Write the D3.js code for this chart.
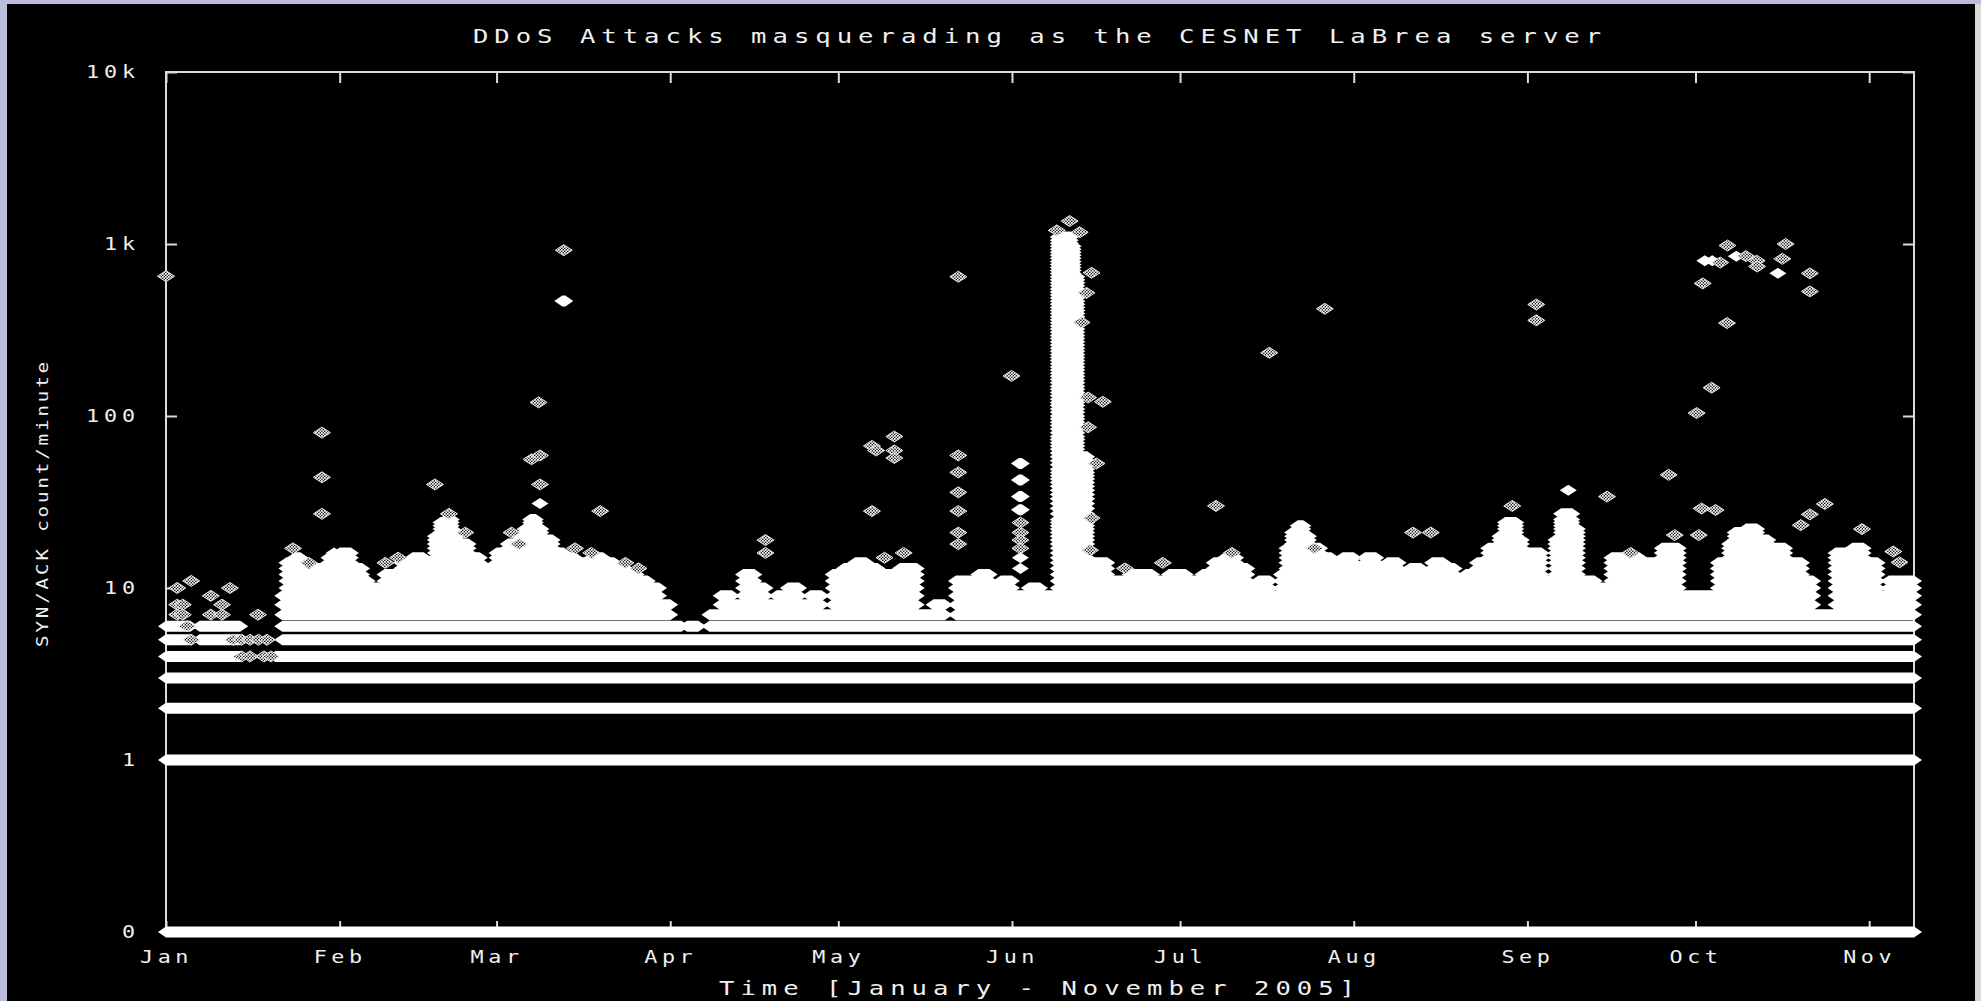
<!DOCTYPE html>
<html>
<head>
<meta charset="utf-8">
<script src="https://cdn.jsdelivr.net/npm/d3@7"></script>
<style>
  html, body { margin: 0; padding: 0; background: #b9bcdb; overflow: hidden; }
  text { font-family: "DejaVu Sans Mono", "Liberation Mono", monospace; fill: #f0f0f0; }
</style>
</head>
<body>
<div id="my_dataviz"></div>
<script>
// plot box inside the 1981x1001 window
var margin = {top: 72, right: 67, bottom: 69, left: 166},
    W = 1981, H = 1001,
    width = W - margin.left - margin.right,
    height = H - margin.top - margin.bottom;

// ---- data ----
var span = ["2005-01-01", "2005-11-09"];
var monthTicks = ["2005-01-01", "2005-02-01", "2005-03-01", "2005-04-01", "2005-05-01", "2005-06-01",
                  "2005-07-01", "2005-08-01", "2005-09-01", "2005-10-01", "2005-11-01"];
var monthLabels = ["Jan", "Feb", "Mar", "Apr", "May", "Jun", "Jul", "Aug", "Sep", "Oct", "Nov"];
var yTicks = [0.1, 1, 10, 100, 1000, 10000];
var yTickLabels = ["0", "1", "10", "100", "1k", "10k"];

// every count from 1 up to this value shows up (solid) from this date until the next one
var dense = [
  ["2005-01-01", 6], ["2005-01-05 08:00", 4], ["2005-01-07", 6], ["2005-01-14 06:00", 3],
  ["2005-01-20 12:00", 4], ["2005-01-21 18:00", 9], ["2005-01-22 12:00", 14], ["2005-01-24", 15],
  ["2005-01-25", 10], ["2005-01-26", 12], ["2005-01-28", 13], ["2005-01-30", 15], ["2005-02-01", 16],
  ["2005-02-03", 13], ["2005-02-05", 11], ["2005-02-06", 10], ["2005-02-08", 9], ["2005-02-09", 12],
  ["2005-02-11", 9], ["2005-02-12", 14], ["2005-02-14", 15], ["2005-02-16", 14], ["2005-02-18", 20],
  ["2005-02-19", 24], ["2005-02-20", 25], ["2005-02-21", 21], ["2005-02-22", 18], ["2005-02-24", 15],
  ["2005-02-26", 12], ["2005-02-27", 13], ["2005-03-01", 16], ["2005-03-03", 18], ["2005-03-05", 20],
  ["2005-03-06", 22], ["2005-03-07", 25], ["2005-03-08", 22], ["2005-03-09", 19], ["2005-03-11", 16],
  ["2005-03-13", 15], ["2005-03-15", 14], ["2005-03-18", 15], ["2005-03-20", 14], ["2005-03-22", 13],
  ["2005-03-24", 12], ["2005-03-26", 11], ["2005-03-28", 10], ["2005-03-30", 8], ["2005-04-01", 6],
  ["2005-04-03", 5], ["2005-04-04", 6], ["2005-04-06", 5], ["2005-04-08", 7], ["2005-04-10", 9],
  ["2005-04-12", 8], ["2005-04-14", 12], ["2005-04-16", 10], ["2005-04-18", 8], ["2005-04-20", 9],
  ["2005-04-22", 10], ["2005-04-24", 8], ["2005-04-26", 9], ["2005-04-28", 7], ["2005-04-30", 12],
  ["2005-05-02", 13], ["2005-05-04", 14], ["2005-05-06", 13], ["2005-05-08", 12], ["2005-05-12", 13],
  ["2005-05-15", 7], ["2005-05-18", 8], ["2005-05-20", 6], ["2005-05-22", 11], ["2005-05-26", 12],
  ["2005-05-28", 10], ["2005-05-30", 11], ["2005-06-01", 9], ["2005-06-04", 10], ["2005-06-06", 9],
  ["2005-06-09 04:00", 1100], ["2005-06-11 12:00", 1000], ["2005-06-12 00:00", 650],
  ["2005-06-12 16:00", 60], ["2005-06-14 10:00", 14],
  ["2005-06-18", 11], ["2005-06-22", 12], ["2005-06-26", 11], ["2005-06-29", 12], ["2005-07-02", 11],
  ["2005-07-05", 12], ["2005-07-07", 14], ["2005-07-09", 15], ["2005-07-11", 13], ["2005-07-13", 10],
  ["2005-07-15", 11], ["2005-07-17", 9], ["2005-07-19", 12], ["2005-07-20", 17], ["2005-07-21", 21],
  ["2005-07-22", 23], ["2005-07-23", 20], ["2005-07-24", 17], ["2005-07-26", 15], ["2005-07-28", 14],
  ["2005-07-30", 15], ["2005-08-01", 13], ["2005-08-03", 15], ["2005-08-05", 13], ["2005-08-07", 14],
  ["2005-08-09", 12], ["2005-08-11", 13], ["2005-08-13", 12], ["2005-08-15", 14], ["2005-08-17", 13],
  ["2005-08-19", 11], ["2005-08-21", 12], ["2005-08-23", 14], ["2005-08-25", 17], ["2005-08-27", 20],
  ["2005-08-28", 24], ["2005-08-30", 19], ["2005-08-31", 16], ["2005-09-03 12:00", 11], ["2005-09-06", 19],
  ["2005-09-07", 27], ["2005-09-09", 22], ["2005-09-10", 11], ["2005-09-13", 10], ["2005-09-16", 15],
  ["2005-09-21", 14], ["2005-09-25", 17], ["2005-09-28", 9], ["2005-10-05", 14], ["2005-10-07", 18],
  ["2005-10-08", 21], ["2005-10-10", 22], ["2005-10-12", 19], ["2005-10-14", 17], ["2005-10-17", 14],
  ["2005-10-20", 11], ["2005-10-22", 7], ["2005-10-26", 16], ["2005-10-29", 17], ["2005-10-31", 14],
  ["2005-11-02 12:00", 9], ["2005-11-04 12:00", 11]
];

// isolated minutes: [date, count, how many minutes share the spot]
var stray = [
  ["2005-01-01", 650, 1], ["2005-01-03", 10, 1], ["2005-01-05 12:00", 11, 1], ["2005-01-03", 8, 1],
  ["2005-01-04", 8, 1], ["2005-01-03", 7, 1], ["2005-01-04", 7, 1], ["2005-01-09", 9, 1], ["2005-01-09", 7, 1],
  ["2005-01-11", 7, 1], ["2005-01-11", 8, 1], ["2005-01-12 10:00", 10, 1], ["2005-01-17 10:00", 7, 1],
  ["2005-01-04 18:00", 6, 1], ["2005-01-05 12:00", 5, 1], ["2005-01-13", 5, 1], ["2005-01-14 12:00", 5, 1],
  ["2005-01-16", 5, 1], ["2005-01-17 12:00", 5, 1], ["2005-01-19", 5, 1], ["2005-01-14 12:00", 4, 1],
  ["2005-01-16", 4, 1], ["2005-01-18 12:00", 4, 1], ["2005-01-19 18:00", 4, 1],
  ["2005-01-23 16:00", 17, 1], ["2005-01-26 12:00", 14, 1],
  ["2005-01-28 20:00", 80, 1], ["2005-01-28 20:00", 44, 1], ["2005-01-28 20:00", 27, 1], ["2005-01-31", 16, 2],
  ["2005-02-09 04:00", 14, 1], ["2005-02-11 10:00", 15, 1], ["2005-02-18", 40, 1],
  ["2005-02-20 12:00", 27, 1], ["2005-02-23 10:00", 21, 1], ["2005-03-03 16:00", 21, 1], ["2005-03-05", 18, 1],
  ["2005-03-13", 920, 1], ["2005-03-13", 467, 5], ["2005-03-08 12:00", 120, 1], ["2005-03-07 06:00", 56, 1],
  ["2005-03-08 18:00", 59, 1], ["2005-03-08 18:00", 40, 1], ["2005-03-08 18:00", 31, 3], ["2005-03-19 12:00", 28, 1],
  ["2005-03-15", 17, 1], ["2005-03-17 22:00", 16, 1], ["2005-03-24", 14, 1], ["2005-03-26 08:00", 13, 1],
  ["2005-04-18", 19, 1], ["2005-04-18", 16, 1],
  ["2005-05-07", 67, 1], ["2005-05-07 18:00", 63, 1], ["2005-05-11", 76, 1], ["2005-05-11", 63, 1],
  ["2005-05-11", 57, 1], ["2005-05-07", 28, 1], ["2005-05-09 06:00", 15, 1], ["2005-05-12 16:00", 16, 1],
  ["2005-05-22 10:00", 645, 1], ["2005-05-22 10:00", 59, 1],
  ["2005-05-22 10:00", 47, 1], ["2005-05-22 10:00", 36, 1], ["2005-05-22 10:00", 28, 1], ["2005-05-22 10:00", 21, 1],
  ["2005-05-22 10:00", 18, 1], ["2005-05-31 22:00", 171, 1],
  ["2005-06-02 12:00", 53, 4], ["2005-06-02 12:00", 42.5, 4], ["2005-06-02 12:00", 34, 4], ["2005-06-02 12:00", 28.5, 4],
  ["2005-06-02 12:00", 24, 1], ["2005-06-02 12:00", 21, 1], ["2005-06-02 12:00", 19, 1], ["2005-06-02 12:00", 17, 1],
  ["2005-06-02 12:00", 15, 2], ["2005-06-02 12:00", 13, 2],
  ["2005-06-11 07:00", 1360, 1], ["2005-06-09", 1200, 1], ["2005-06-13 02:00", 1170, 1], ["2005-06-15 05:00", 680, 1],
  ["2005-06-14 07:00", 520, 1], ["2005-06-13 10:00", 350, 1], ["2005-06-17 05:00", 121, 1], ["2005-06-14 14:00", 128, 1],
  ["2005-06-14 14:00", 86, 1], ["2005-06-16 02:00", 53, 1], ["2005-06-15 05:00", 25.5, 1], ["2005-06-14 22:00", 16.6, 1],
  ["2005-06-21 04:00", 13, 1], ["2005-06-27 22:00", 14, 1],
  ["2005-07-07 10:00", 30, 1], ["2005-07-10 06:00", 16, 1], ["2005-07-16 22:00", 233, 1], ["2005-07-25", 17, 1],
  ["2005-07-26 20:00", 420, 1], ["2005-08-11 14:00", 21, 1], ["2005-08-14 18:00", 21, 1],
  ["2005-08-29 07:00", 30, 1], ["2005-09-02 14:00", 445, 1], ["2005-09-02 14:00", 360, 1], ["2005-09-08 07:00", 37, 3],
  ["2005-09-15 05:00", 34, 1], ["2005-09-19 10:00", 16, 1], ["2005-09-26 05:00", 45.5, 1], ["2005-09-27 07:00", 20.3, 1],
  ["2005-10-01 05:00", 104, 1], ["2005-10-02 07:00", 590, 1], ["2005-10-03 21:00", 146, 1], ["2005-10-06 17:00", 980, 1],
  ["2005-10-06 15:00", 347, 1], ["2005-10-02 16:00", 800, 3], ["2005-10-04 00:00", 800, 3], ["2005-10-05 10:00", 780, 1],
  ["2005-10-08 07:00", 850, 2], ["2005-10-10", 850, 1], ["2005-10-11 22:00", 800, 1], ["2005-10-12", 740, 1],
  ["2005-10-17 02:00", 1000, 1], ["2005-10-16 12:00", 820, 1], ["2005-10-15 17:00", 675, 3], ["2005-10-21 10:00", 675, 1],
  ["2005-10-21 10:00", 530, 1], ["2005-10-02 02:00", 29, 1], ["2005-10-04 14:00", 28.4, 1], ["2005-10-01 14:00", 20.3, 1],
  ["2005-10-24 02:00", 30.8, 1], ["2005-10-21 10:00", 26.8, 1], ["2005-10-19 19:00", 23.2, 1], ["2005-10-30 17:00", 22, 1],
  ["2005-11-05 07:00", 16.3, 1], ["2005-11-06 10:00", 14.1, 1]
];

// ---- helpers ----
var parseDay = d3.timeParse("%Y-%m-%d"),
    parseHour = d3.timeParse("%Y-%m-%d %H:%M");
function parse(s) { return s.length > 10 ? parseHour(s) : parseDay(s); }

// wide bitmap-looking text: stretch glyphs to a fixed character pitch
function pixelText(sel, size, pitch) {
  sel.style("font-size", size + "px")
     .style("letter-spacing", (pitch / 1.28 - 0.602 * size).toFixed(2) + "px")
     .attr("lengthAdjust", "spacingAndGlyphs")
     .attr("textLength", function() { return this.textContent.length * pitch; });
}

var svg = d3.select("#my_dataviz")
  .append("svg")
  .attr("width", W)
  .attr("height", H);

// window frame
svg.append("rect").attr("width", W).attr("height", H).attr("fill", "#b9bcdb");
svg.append("rect").attr("x", 7).attr("y", 4).attr("width", W - 7).attr("height", H - 4).attr("fill", "#000");
svg.append("rect").attr("x", 1975).attr("y", 4).attr("width", 6).attr("height", H - 4).attr("fill", "#d9d9d9");

var x = d3.scaleTime()
  .domain(span.map(parse))
  .range([margin.left, margin.left + width]);

var y = d3.scaleLog()
  .domain([yTicks[0], yTicks[yTicks.length - 1]])
  .range([margin.top + height, margin.top]);

// hatch used by the single points
var pat = svg.append("defs").append("pattern")
  .attr("id", "hatch")
  .attr("patternUnits", "userSpaceOnUse")
  .attr("width", 3).attr("height", 3);
pat.append("rect").attr("width", 3).attr("height", 3).attr("fill", "#222");
pat.append("rect").attr("width", 1.7).attr("height", 1.7).attr("fill", "#fff");
pat.append("rect").attr("x", 1.5).attr("y", 1.5).attr("width", 1.7).attr("height", 1.7).attr("fill", "#fff");

// axes (inward ticks, gnuplot style)
var tickLen = 11;
svg.append("g")
  .attr("class", "yaxis")
  .attr("transform", "translate(" + margin.left + ",0)")
  .call(d3.axisLeft(y).tickValues(yTicks).tickFormat(function(d, i) { return yTickLabels[i]; })
    .tickSize(-tickLen).tickPadding(26))
  .call(function(g) { g.select(".domain").remove(); });
svg.append("g")
  .attr("transform", "translate(" + (margin.left + width) + ",0)")
  .call(d3.axisRight(y).tickValues(yTicks).tickFormat("").tickSize(-tickLen))
  .call(function(g) { g.select(".domain").remove(); });
svg.append("g")
  .attr("class", "xaxis")
  .attr("transform", "translate(0," + (margin.top + height) + ")")
  .call(d3.axisBottom(x).tickValues(monthTicks.map(parse)).tickFormat(function(d, i) { return monthLabels[i]; })
    .tickSize(-tickLen).tickPadding(19))
  .call(function(g) { g.select(".domain").remove(); });
svg.append("g")
  .attr("transform", "translate(0," + margin.top + ")")
  .call(d3.axisTop(x).tickValues(monthTicks.map(parse)).tickFormat("").tickSize(-tickLen))
  .call(function(g) { g.select(".domain").remove(); });

svg.selectAll(".tick line").attr("stroke", "#dcdcdc").attr("stroke-width", 2);
svg.selectAll(".tick text").attr("fill", "#f0f0f0").style("font-family", "DejaVu Sans Mono");
svg.selectAll(".yaxis .tick text").call(pixelText, 17, 18);
svg.selectAll(".xaxis .tick text").call(pixelText, 17, 17.7);

svg.append("rect")
  .attr("x", margin.left).attr("y", margin.top)
  .attr("width", width).attr("height", height)
  .attr("fill", "none")
  .attr("stroke", "#dcdcdc")
  .attr("stroke-width", 2);

// ---- the dense part: one band per count level ----
var hw = 8, hh = 5.5;   // half size of a point
function band(x0, x1, yy) {
  return "M" + (x0 - hw) + "," + yy + "L" + x0 + "," + (yy - hh) + "L" + x1 + "," + (yy - hh) +
         "L" + (x1 + hw) + "," + yy + "L" + x1 + "," + (yy + hh) + "L" + x0 + "," + (yy + hh) + "Z";
}

var segs = dense.map(function(d, i) {
  var next = i < dense.length - 1 ? dense[i + 1][0] : span[1];
  return {x0: x(parse(d[0])), x1: x(parse(next)), top: d[1]};
});

// count levels to draw (skip those that would fall on the same pixel row)
var levels = [];
var maxTop = d3.max(dense, function(d) { return d[1]; });
for (var c = 1, last = Infinity; c <= maxTop; c++) {
  if (last - y(c) >= 3) { levels.push(c); last = y(c); }
}

var runs = [];
// zero counts sit on the bottom of the log axis
runs.push({x0: x.range()[0], x1: x.range()[1], y: y(yTicks[0])});
levels.forEach(function(L) {
  var cur = null;
  segs.forEach(function(s) {
    if (s.top >= L) {
      if (cur && Math.abs(cur.x1 - s.x0) < 0.5) cur.x1 = s.x1;
      else { cur = {x0: s.x0, x1: s.x1, y: y(L)}; runs.push(cur); }
    } else cur = null;
  });
});

svg.append("g")
  .selectAll("path")
  .data(runs)
  .enter()
  .append("path")
    .attr("d", function(d) { return band(d.x0, d.x1, d.y); })
    .attr("fill", "#fff");

// ---- single points ----
function diamond(cx, cy) {
  return "M" + (cx - hw - 0.5) + "," + cy + "L" + cx + "," + (cy - hh) + "L" + (cx + hw + 0.5) + "," + cy +
         "L" + cx + "," + (cy + hh) + "Z";
}
svg.append("g")
  .selectAll("path")
  .data(stray)
  .enter()
  .append("path")
    .attr("d", function(d) {
      var cx = x(parse(d[0])), cy = y(d[1]);
      if (d[2] > 3) return band(cx - 1.5, cx + 1.5, cy);
      return diamond(cx, cy);
    })
    .attr("fill", function(d) { return d[2] > 1 ? "#fff" : "url(#hatch)"; })
    .attr("stroke", function(d) { return d[2] > 1 ? "none" : "#e6e6e6"; })
    .attr("stroke-width", 1);

// ---- titles ----
svg.append("text")
  .attr("x", margin.left + width / 2)
  .attr("y", 43)
  .attr("text-anchor", "middle")
  .text("DDoS Attacks masquerading as the CESNET LaBrea server")
  .call(pixelText, 20, 21.4);

svg.append("text")
  .attr("x", margin.left + width / 2)
  .attr("y", 995)
  .attr("text-anchor", "middle")
  .text("Time [January - November 2005]")
  .call(pixelText, 20, 21.4);

svg.append("text")
  .attr("transform", "translate(48,503) rotate(-90)")
  .attr("text-anchor", "middle")
  .text("SYN/ACK count/minute")
  .call(pixelText, 15, 14.4);
</script>
</body>
</html>
